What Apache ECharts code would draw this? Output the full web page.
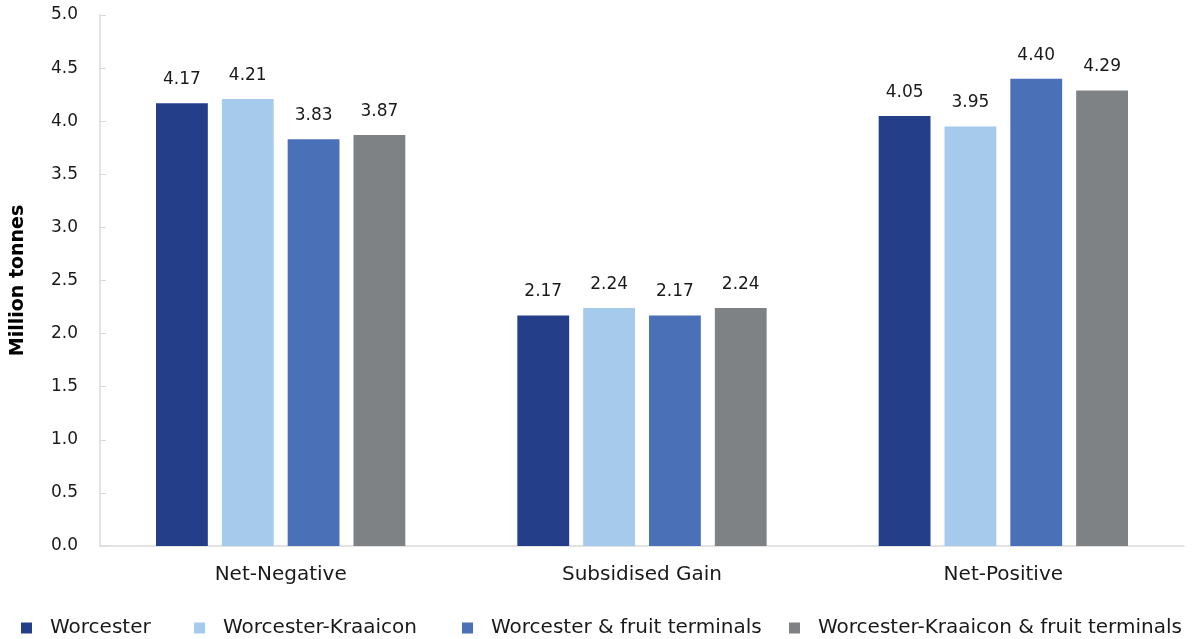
<!DOCTYPE html>
<html><head><meta charset="utf-8">
<script src="https://cdn.jsdelivr.net/npm/echarts@6/dist/echarts.min.js"></script>
<style>html,body{margin:0;padding:0;background:#fff}#c{width:1198px;height:639px}</style>
</head><body><div id="c"></div>
<script>
const categories = ['Net-Negative', 'Subsidised Gain', 'Net-Positive'];
const seriesNames = ['Worcester', 'Worcester-Kraaicon', 'Worcester & fruit terminals', 'Worcester-Kraaicon & fruit terminals'];
const worcester = [4.17, 2.17, 4.05];
const worcesterKraaicon = [4.21, 2.24, 3.95];
const worcesterFruit = [3.83, 2.17, 4.40];
const worcesterKraaiconFruit = [3.87, 2.24, 4.29];
const colors = ['#243E8A', '#A6CAEC', '#4A71B7', '#7F8285'];
const values = [worcester, worcesterKraaicon, worcesterFruit, worcesterKraaiconFruit];
const font = '"DejaVu Sans", sans-serif';
const legendLeft = [16, 189, 457, 784];

const chart = echarts.init(document.getElementById('c'), null, {renderer: 'canvas'});
chart.setOption({
  animation: false,
  textStyle: {fontFamily: font},
  grid: {left: 100, right: 14, top: 15, bottom: 93, containLabel: false, outerBoundsMode: 'none'},
  legend: seriesNames.map((n, i) => ({
    data: [n], left: legendLeft[i], top: 613, icon: 'rect', itemWidth: 11, itemHeight: 11, itemGap: 20,
    textStyle: {fontSize: 20, color: '#1a1a1a', fontFamily: font, padding: [0, 0, 0, 13]}
  })),
  xAxis: {
    type: 'category', data: categories,
    axisLine: {lineStyle: {color: '#d9d9d9', width: 1.5}},
    axisTick: {show: false},
    axisLabel: {fontSize: 20, color: '#1a1a1a', margin: 19}
  },
  yAxis: {
    type: 'value', min: 0, max: 5, interval: 0.5,
    name: 'Million tonnes', nameLocation: 'middle', nameGap: 72,
    nameTextStyle: {fontSize: 19, fontWeight: 'bold', color: '#000'},
    axisLine: {show: true, lineStyle: {color: '#d9d9d9', width: 1.5}},
    axisTick: {show: true, inside: true, length: 6, lineStyle: {color: '#d9d9d9'}},
    splitLine: {show: false},
    axisLabel: {fontSize: 17, color: '#1a1a1a', margin: 22, formatter: v => v.toFixed(1)}
  },
  series: seriesNames.map((n, i) => ({
    name: n, type: 'bar', data: values[i],
    itemStyle: {color: colors[i]},
    barGap: '27%', barCategoryGap: '31%',
    label: {show: true, position: 'top', distance: 15, fontSize: 17, color: '#1a1a1a', formatter: p => p.value.toFixed(2)}
  }))
});
</script></body></html>
